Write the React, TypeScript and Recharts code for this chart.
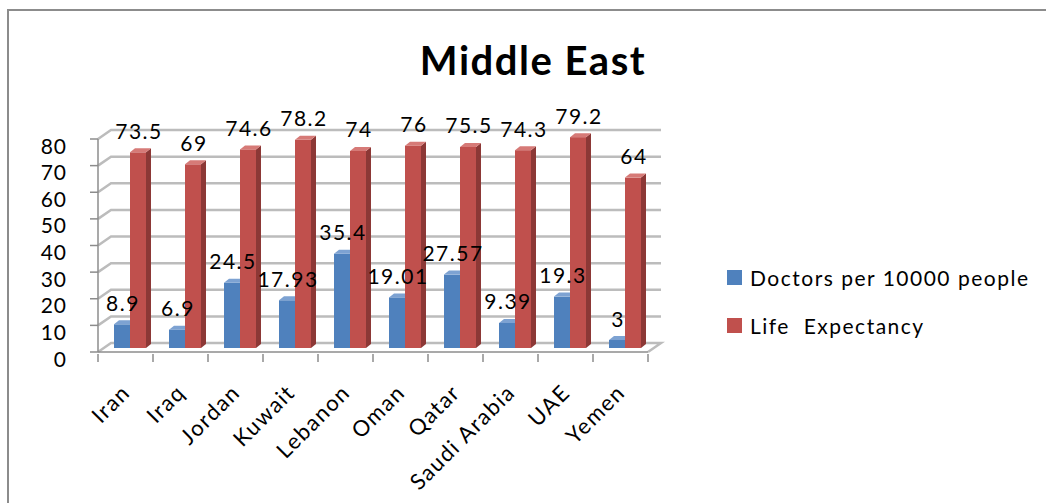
import { BarChart, Bar, XAxis, YAxis, CartesianGrid, LabelList } from "recharts";

const countries = ["Iran", "Iraq", "Jordan", "Kuwait", "Lebanon", "Oman", "Qatar", "Saudi Arabia", "UAE", "Yemen"];
const doctors = [8.9, 6.9, 24.5, 17.93, 35.4, 19.01, 27.57, 9.39, 19.3, 3];
const lifeExp = [73.5, 69, 74.6, 78.2, 74, 76, 75.5, 74.3, 79.2, 64];
const yTicks = [0, 10, 20, 30, 40, 50, 60, 70, 80];
const seriesNames = ["Doctors per 10000 people", "Life  Expectancy"];
const seriesColors = ["#4F81BD", "#C0504D"];

const data = countries.map((c, i) => ({ name: c, doctors: doctors[i], life: lifeExp[i] }));

const FONT = "Lato, 'Open Sans', sans-serif";
const W = 1046;
const H = 503;
const X_AXIS_H = 60;
const Y_AXIS_W = 60;
const M = { top: 139, right: 398, bottom: 151 - X_AXIS_H, left: 38 };
const PLOT_W = W - M.left - Y_AXIS_W - M.right;
const BAND = PLOT_W / countries.length;
// 3d offsets
const SHIFT_X = 4;
const SHIFT_Y = -4;
const DEPTH_X = 5;
const DEPTH_Y = 4;
const WALL_X = 13;
const WALL_Y = 9;

const shades: Record<string, { side: string; top: string }> = {
  "#4F81BD": { side: "#385d8a", top: "#7da2d2" },
  "#C0504D": { side: "#8c3836", top: "#d67a77" },
};

function Bar3D(props: any) {
  const { x, y, width, height, fill } = props;
  if (height == null || width == null) return null;
  const x0 = x + SHIFT_X;
  const y0 = y + SHIFT_Y;
  const s = shades[fill];
  return (
    <g>
      <rect x={x0} y={y0} width={width} height={height} fill={fill} />
      <path
        d={`M${x0 + width},${y0} L${x0 + width + DEPTH_X},${y0 - DEPTH_Y} L${x0 + width + DEPTH_X},${y0 + height - DEPTH_Y} L${x0 + width},${y0 + height} Z`}
        fill={s.side}
      />
      <path
        d={`M${x0},${y0} L${x0 + DEPTH_X},${y0 - DEPTH_Y} L${x0 + width + DEPTH_X},${y0 - DEPTH_Y} L${x0 + width},${y0} Z`}
        fill={s.top}
      />
    </g>
  );
}

function gridLine(props: any) {
  const { x1, y1, x2, index } = props;
  let d = `M${x1},${y1} L${x1 + WALL_X},${y1 - WALL_Y} L${x2 + WALL_X},${y1 - WALL_Y}`;
  if (Math.abs(y1 - (H - M.bottom - X_AXIS_H)) < 1) d += ` L${x2},${y1}`;
  return <path key={`g${index}`} d={d} fill="none" stroke="#bcbcbc" strokeWidth={2.5} />;
}

function YTick(props: any) {
  const { x, y, payload } = props;
  return (
    <text x={x} y={y + 6} textAnchor="end" dominantBaseline="central" fontSize={21} fontFamily={FONT} fill="#000" letterSpacing={1}>
      {payload.value}
    </text>
  );
}

function XTick(props: any) {
  const { x, y, payload, index } = props;
  const left = x - BAND / 2;
  const lx = x + 6;
  const ly = y + 40;
  return (
    <g>
      <line x1={left} y1={y} x2={left} y2={y + 8} stroke="#8c8c8c" strokeWidth={1.5} />
      {index === countries.length - 1 && (
        <line x1={left + BAND} y1={y} x2={left + BAND} y2={y + 8} stroke="#8c8c8c" strokeWidth={1.5} />
      )}
      <text
        x={lx}
        y={ly}
        textAnchor="end"
        fontSize={22}
        fontFamily={FONT}
        letterSpacing={1.5}
        fill="#000"
        transform={`rotate(-45 ${lx} ${ly})`}
      >
        {payload.value}
      </text>
    </g>
  );
}

function ValueLabel(props: any) {
  const { x, y, width, value } = props;
  return (
    <text
      x={x + SHIFT_X + width / 2 + 1}
      y={y + SHIFT_Y - 22}
      textAnchor="middle"
      dominantBaseline="central"
      fontSize={21}
      fontFamily={FONT}
      letterSpacing={1.5}
      fill="#000"
    >
      {value}
    </text>
  );
}

function LegendBox() {
  return (
    <div style={{ position: "absolute", left: 727, top: 253, fontFamily: FONT, fontSize: 21, color: "#000", letterSpacing: 1.5 }}>
      {seriesNames.map((label, i) => (
        <div key={label} style={{ display: "flex", alignItems: "center", height: 48 }}>
          <span style={{ width: 15, height: 15, background: seriesColors[i], display: "inline-block", marginRight: 8 }} />
          <span style={{ whiteSpace: "pre" }}>{label}</span>
        </div>
      ))}
    </div>
  );
}

export default function App() {
  return (
    <div style={{ position: "absolute", left: 0, top: 0, width: W, height: H, background: "#fff", overflow: "hidden" }}>
      <div
        style={{
          position: "absolute",
          left: 7,
          top: 9,
          width: W,
          height: H,
          borderTop: "2px solid #8c8c8c",
          borderLeft: "2px solid #8c8c8c",
        }}
      />
      <div
        style={{
          position: "absolute",
          left: 0,
          width: 1066,
          top: 36,
          textAlign: "center",
          fontFamily: FONT,
          fontWeight: 700,
          fontSize: 40,
          letterSpacing: 1.5,
          lineHeight: "48px",
        }}
      >
        Middle East
      </div>
      <div style={{ position: "absolute", left: 0, top: 0 }}>
        <BarChart width={W} height={H} data={data} margin={M} barGap={0} barSize={16}>
          <CartesianGrid vertical={false} horizontal={gridLine} />
          <XAxis
            dataKey="name"
            interval={0}
            axisLine={{ stroke: "#8c8c8c", strokeWidth: 1.5 }}
            tickLine={false}
            tickSize={0}
            tick={<XTick />}
            height={X_AXIS_H}
          />
          <YAxis
            domain={[0, 80]}
            ticks={yTicks}
            width={Y_AXIS_W}
            axisLine={{ stroke: "#8c8c8c", strokeWidth: 1.5 }}
            tickLine={{ stroke: "#8c8c8c", strokeWidth: 1.5 }}
            tickSize={8}
            tickMargin={23}
            tick={<YTick />}
          />
          <Bar dataKey="doctors" name={seriesNames[0]} fill={seriesColors[0]} shape={<Bar3D />} isAnimationActive={false}>
            <LabelList dataKey="doctors" content={<ValueLabel />} />
          </Bar>
          <Bar dataKey="life" name={seriesNames[1]} fill={seriesColors[1]} shape={<Bar3D />} isAnimationActive={false}>
            <LabelList dataKey="life" content={<ValueLabel />} />
          </Bar>
        </BarChart>
      </div>
      <LegendBox />
    </div>
  );
}
